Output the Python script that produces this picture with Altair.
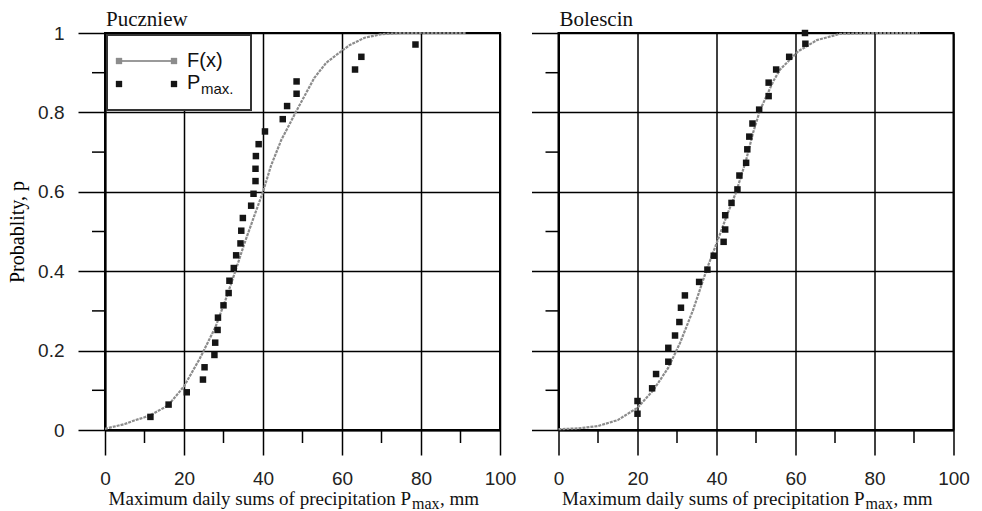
import altair as alt
import pandas as pd

# ---------------- data ----------------
left_name = "Puczniew"
right_name = "Bolescin"

left_pts_x = [11.5, 16.1, 20.7, 24.8, 25.2, 27.7, 27.9, 28.5, 28.6, 30.0, 31.3,
              31.5, 32.6, 33.2, 34.3, 34.5, 34.9, 37.0, 37.6, 38.1, 38.1, 38.2,
              38.9, 40.5, 45.0, 46.1, 48.5, 48.5, 63.3, 64.9, 78.6]
left_pts_p = [0.033, 0.064, 0.095, 0.127, 0.158, 0.189, 0.220, 0.252, 0.283,
              0.314, 0.345, 0.376, 0.408, 0.440, 0.470, 0.502, 0.534, 0.565,
              0.595, 0.627, 0.658, 0.690, 0.720, 0.752, 0.783, 0.816, 0.847,
              0.878, 0.908, 0.940, 0.971]

left_curve_x = [0, 5, 7.4, 10, 12, 16, 20, 24, 28, 30.6, 33, 35.3, 38, 40, 42,
                44.6, 48.8, 53, 56, 59.8, 62, 65.7, 70, 75, 91.5]
left_curve_p = [0.003, 0.015, 0.024, 0.032, 0.040, 0.062, 0.110, 0.180, 0.260,
                0.330, 0.400, 0.470, 0.545, 0.600, 0.665, 0.730, 0.810, 0.887,
                0.925, 0.954, 0.970, 0.988, 0.997, 1.0, 1.0]

right_pts_x = [20.0, 20.0, 23.7, 24.7, 27.8, 27.8, 29.5, 30.6, 31.0, 32.0, 35.6,
               37.7, 39.3, 41.8, 42.2, 42.2, 43.8, 45.3, 45.8, 47.5, 47.8, 48.3,
               49.1, 50.8, 53.2, 53.2, 55.1, 58.4, 62.5, 62.4]
right_pts_p = [0.041, 0.073, 0.105, 0.141, 0.172, 0.207, 0.238, 0.272, 0.308,
               0.339, 0.373, 0.404, 0.439, 0.474, 0.505, 0.541, 0.572, 0.606,
               0.641, 0.673, 0.707, 0.739, 0.772, 0.807, 0.841, 0.875, 0.908,
               0.940, 0.973, 1.0]

right_curve_x = [0, 5, 10, 15, 20, 24, 27.8, 30.8, 34.1, 37.5, 40, 42.6, 45,
                 47.5, 49.3, 51, 54.4, 56.1, 60.7, 65.4, 71.3, 80, 91.5]
right_curve_p = [0.002, 0.004, 0.010, 0.025, 0.056, 0.100, 0.157, 0.220, 0.303,
                 0.404, 0.470, 0.540, 0.600, 0.680, 0.750, 0.805, 0.879, 0.908,
                 0.954, 0.982, 0.998, 1.0, 1.0]

x_major = [0, 20, 40, 60, 80, 100]
x_minor = [10, 30, 50, 70, 90]
y_major = [0, 0.2, 0.4, 0.6, 0.8, 1.0]
y_minor = [0.1, 0.3, 0.5, 0.7, 0.9]

y_title = "Probablity, p"
x_title_main = "Maximum daily sums of precipitation P"
x_title_sub = "max"
x_title_tail = ", mm"
legend_curve = "F(x)"
legend_pts_main = "P"
legend_pts_sub = "max."

# ---------------- styling ----------------
W, H = 395, 397
SERIF = "Liberation Serif"
SANS = "Liberation Sans"
CURVE = "#8c8c8c"
PT = "#151515"

xs = alt.Scale(domain=[0, 100], nice=False, zero=False)
ys = alt.Scale(domain=[0, 1], nice=False, zero=False)


def one(v):
    return pd.DataFrame({"t": [v]})


def panel(name, px, pp, cx, cp, show_y, legend):
    xaxis = alt.Axis(values=x_major, tickSize=25, labelPadding=14, grid=True,
                     title=None, labelFlush=False)
    if show_y:
        yaxis = alt.Axis(values=y_major, tickSize=27, labelPadding=14, grid=True,
                         format="~g", title=y_title, titlePadding=10,
                         titleFont=SERIF, titleFontSize=20,
                         titleFontWeight="normal", titleColor="black")
    else:
        yaxis = alt.Axis(values=y_major, tickSize=27, labels=False, grid=True,
                         title=None)
    X = lambda f: alt.X(f, scale=xs, axis=xaxis)
    Y = lambda f: alt.Y(f, scale=ys, axis=yaxis)

    pts = pd.DataFrame({"x": px, "p": pp})
    cur = pd.DataFrame({"x": cx, "p": cp})

    layers = []
    layers.append(
        alt.Chart(pd.DataFrame({"v": x_minor})).mark_rule(
            color="black", strokeWidth=1.5, clip=False).encode(
            x=X("v:Q"), y=alt.value(H), y2=alt.value(H + 13)))
    layers.append(
        alt.Chart(pd.DataFrame({"v": y_minor})).mark_rule(
            color="black", strokeWidth=1.5, clip=False).encode(
            y=Y("v:Q"), x=alt.value(-13), x2=alt.value(0)))
    layers.append(
        alt.Chart(cur).mark_line(color=CURVE, strokeWidth=2.2,
                                 strokeDash=[3, 1]).encode(
            x=X("x:Q"), y=Y("p:Q")))
    layers.append(
        alt.Chart(pts).mark_square(size=42, color=PT, opacity=1).encode(
            x=X("x:Q"), y=Y("p:Q")))
    # panel title
    layers.append(
        alt.Chart(one(name)).mark_text(font=SERIF, fontSize=21, align="left",
                                       baseline="alphabetic", color="#111").encode(
            x=alt.value(1), y=alt.value(-7), text="t:N"))
    # x title with subscript
    T = 306
    layers.append(
        alt.Chart(one(x_title_main)).mark_text(font=SERIF, fontSize=19, align="right",
                                               baseline="alphabetic", color="#111").encode(
            x=alt.value(T), y=alt.value(H + 75), text="t:N"))
    layers.append(
        alt.Chart(one(x_title_sub)).mark_text(font=SERIF, fontSize=16, align="left",
                                              baseline="alphabetic", color="#111").encode(
            x=alt.value(T + 1), y=alt.value(H + 79), text="t:N"))
    layers.append(
        alt.Chart(one(x_title_tail)).mark_text(font=SERIF, fontSize=19, align="left",
                                               baseline="alphabetic", color="#111").encode(
            x=alt.value(T + 29), y=alt.value(H + 75), text="t:N"))

    if legend:
        layers.append(
            alt.Chart(one("box")).mark_rect(fill="white", stroke="#333",
                                            strokeWidth=2).encode(
                x=alt.value(2), x2=alt.value(146), y=alt.value(2), y2=alt.value(77)))
        layers.append(
            alt.Chart(one("l")).mark_rule(color="#9a9a9a", strokeWidth=2).encode(
                x=alt.value(14), x2=alt.value(69), y=alt.value(28)))
        for xv in (14, 69):
            layers.append(
                alt.Chart(one("s")).mark_square(size=40, color="#8c8c8c", opacity=1).encode(
                    x=alt.value(xv), y=alt.value(28)))
            layers.append(
                alt.Chart(one("s")).mark_square(size=40, color=PT, opacity=1).encode(
                    x=alt.value(xv), y=alt.value(51)))
        layers.append(
            alt.Chart(one(legend_curve)).mark_text(font=SANS, fontSize=20, align="left",
                                                   baseline="middle", color="#111").encode(
                x=alt.value(82), y=alt.value(28), text="t:N"))
        layers.append(
            alt.Chart(one(legend_pts_main)).mark_text(font=SANS, fontSize=20, align="left",
                                                      baseline="middle", color="#111").encode(
                x=alt.value(82), y=alt.value(50), text="t:N"))
        layers.append(
            alt.Chart(one(legend_pts_sub)).mark_text(font=SANS, fontSize=15, align="left",
                                                     baseline="middle", color="#111").encode(
                x=alt.value(96), y=alt.value(56), text="t:N"))

    return alt.layer(*layers).properties(width=W, height=H)


left = panel(left_name, left_pts_x, left_pts_p, left_curve_x, left_curve_p, True, True)
right = panel(right_name, right_pts_x, right_pts_p, right_curve_x, right_curve_p, False, False)

chart = alt.hconcat(left, right, spacing=12.5).configure(
    padding={"left": 6, "top": 8, "right": 0, "bottom": 0},
    background="white",
).configure_view(
    stroke="black", strokeWidth=2
).configure_axis(
    domainColor="black", domainWidth=2, tickColor="black", tickWidth=1.5,
    gridColor="black", gridWidth=1.5, gridOpacity=1,
    labelFont=SANS, labelFontSize=19, labelColor="#222",
)

chart.save("out.html", embed_options={"renderer": "svg", "actions": False})
